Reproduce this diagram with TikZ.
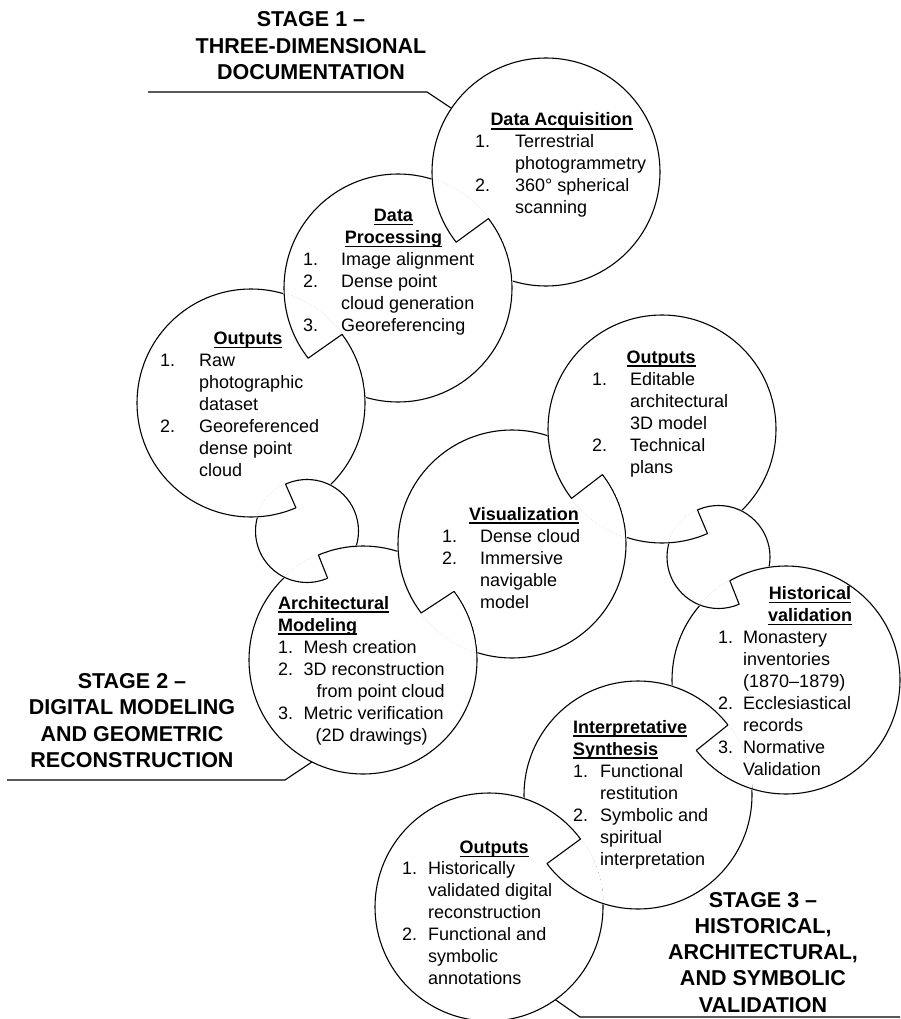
\documentclass[tikz,border=0pt]{standalone}
\usepackage{fontspec}
\setmainfont{Liberation Sans}
\usetikzlibrary{calc}

% underlined bold heading
\newcommand\uhd[1]{\setbox0\hbox{\bfseries #1}\rlap{\rule[-3.6pt]{\wd0}{1.2pt}}\box0}

% notch between two overlapping rings:
% #1 ring A, #2 radius, #3 angle of notch tip on A, #4 ring B, #5 radius, #6 angle on B,
% #7 point on the side of A, #8 point on the side of B
\newcommand\joint[8]{%
  \coordinate (jx) at ($(#1)+(#3:#2)$);
  \coordinate (jy) at ($(#4)+(#6:#5)$);
  \coordinate (jm) at ($(jx)!.5!(jy)$);
  \coordinate (ja) at ($(jx)!-6!(jy)$);
  \coordinate (jb) at ($(jy)!-6!(jx)$);
  \coordinate (jp) at ($(jm)!5!(#7)$);
  \coordinate (jq) at ($(jm)!5!(#8)$);
  \begin{scope}
    \clip (#1) circle[radius=#2pt+0.9pt];
    \clip (#4) circle[radius=#5pt+0.9pt];
    \fill[white] (#1) circle[radius=#2pt+1pt];
    \begin{scope}
      \clip (ja) -- (jb) -- (jp) -- cycle;
      \draw[seam] (#1) circle[radius=#2pt];
    \end{scope}
    \begin{scope}
      \clip (ja) -- (jb) -- (jq) -- cycle;
      \draw[seam] (#4) circle[radius=#5pt];
    \end{scope}
    \draw[seam, line cap=round] (jx) -- (jy);
  \end{scope}}

\begin{document}
\begin{tikzpicture}[x=1pt, y=-1pt,
  every node/.style={inner sep=0pt, font=\fontsize{18}{22}\selectfont},
  ring/.style={draw, fill=white, line width=1.1pt},
  seam/.style={line width=1.1pt},
  guide/.style={line width=1.1pt},
  stage/.style={font=\fontsize{21.5}{26.3}\selectfont\bfseries}]
  \useasboundingbox (0,0) rectangle (900,1019);

  % ring centres
  \coordinate (acq)   at (546,172);
  \coordinate (proc)  at (398,288);
  \coordinate (outA)  at (251,403);
  \coordinate (linkA) at (307,531);
  \coordinate (model) at (363,660);
  \coordinate (vis)   at (512,544);
  \coordinate (outB)  at (662,429);
  \coordinate (linkB) at (718.5,557);
  \coordinate (hist)  at (786,680);
  \coordinate (synth) at (638,795);
  \coordinate (outC)  at (489,907);

  \draw[ring] (acq) circle[radius=114pt];
  \draw[ring] (proc) circle[radius=114pt];
  \draw[ring] (outA) circle[radius=114pt];
  \draw[ring] (linkA) circle[radius=51.5pt];
  \draw[ring] (model) circle[radius=114pt];
  \draw[ring] (vis) circle[radius=114pt];
  \draw[ring] (outB) circle[radius=114pt];
  \draw[ring] (linkB) circle[radius=51.5pt];
  \draw[ring] (hist) circle[radius=114pt];
  \draw[ring] (synth) circle[radius=114pt];
  \draw[ring] (outC) circle[radius=114pt];

  % notches
  \joint{acq}{114}{142}{proc}{114}{-37.5}{432,179}{512,281}
  \joint{proc}{114}{142}{outA}{114}{-37}{284,294}{365,397}
  \joint{linkA}{51.5}{245.4}{outA}{114}{66.8}{330,485}{257,517}
  \joint{model}{114}{247}{linkA}{51.5}{66.4}{356,546}{284,577}
  \joint{vis}{114}{142.8}{model}{114}{-37}{398,552}{477,652}
  \joint{outB}{114}{142.5}{vis}{114}{-37.5}{548,436}{626,537}
  \joint{linkB}{51.5}{245.9}{outB}{114}{66.5}{741,511}{669,543}
  \joint{hist}{114}{240.5}{linkB}{51.5}{66.4}{769,567}{700,605}
  \joint{synth}{114}{-37.9}{hist}{114}{141.9}{672,686}{752,789}
  \joint{outC}{114}{-36.6}{synth}{114}{143}{524,799}{603,903}

  % stage leaders
  \coordinate (st1a) at (148,92);
  \coordinate (st1b) at (427,92);
  \coordinate (st1c) at ($(acq)+(214:114)$);
  \draw[guide] (st1a) -- (st1b) -- (st1c);
  \coordinate (st2a) at (7,780);
  \coordinate (st2b) at (285,780);
  \coordinate (st2c) at ($(model)+(116.6:114)$);
  \draw[guide] (st2a) -- (st2b) -- (st2c);
  \coordinate (st3a) at ($(outC)+(54.4:114)$);
  \coordinate (st3b) at (580,1017);
  \coordinate (st3c) at (900,1017);
  \draw[guide] (st3a) -- (st3b) -- (st3c);

  % stage titles
  \node[stage, anchor=base] (stage1) at (311,27)
    {\begin{tabular}[t]{@{}c@{}}STAGE 1 --\\THREE-DIMENSIONAL\\DOCUMENTATION\end{tabular}};
  \node[stage, anchor=base] (stage2) at (132,688.5)
    {\begin{tabular}[t]{@{}c@{}}STAGE 2 --\\DIGITAL MODELING\\AND GEOMETRIC\\RECONSTRUCTION\end{tabular}};
  \node[stage, anchor=base] (stage3) at (763,907)
    {\begin{tabular}[t]{@{}c@{}}STAGE 3 --\\HISTORICAL,\\ARCHITECTURAL,\\AND SYMBOLIC\\VALIDATION\end{tabular}};

  % stage 1
  \node[anchor=base] (acqhead) at (561.5,126) {\uhd{Data Acquisition}};
  \node[anchor=base west] (acqlist) at (475,148)
    {\begin{tabular}[t]{@{}p{40pt}@{}l@{}}1. & Terrestrial\\ & photogrammetry\\ 2. & 360° spherical\\ & scanning\end{tabular}};

  \node[anchor=base] (prochead) at (393.5,221.5)
    {\begin{tabular}[t]{@{}c@{}}\uhd{Data}\\\uhd{Processing}\end{tabular}};
  \node[anchor=base west] (proclist) at (303,265.5)
    {\begin{tabular}[t]{@{}p{38pt}@{}l@{}}1. & Image alignment\\ 2. & Dense point\\ & cloud generation\\ 3. & Georeferencing\end{tabular}};

  \node[anchor=base] (outAhead) at (248,344.5) {\uhd{Outputs}};
  \node[anchor=base west] (outAlist) at (160,366.5)
    {\begin{tabular}[t]{@{}p{39pt}@{}l@{}}1. & Raw\\ & photographic\\ & dataset\\ 2. & Georeferenced\\ & dense point\\ & cloud\end{tabular}};

  % stage 2
  \node[anchor=base west] (modelhead) at (278,609)
    {\begin{tabular}[t]{@{}l@{}}\uhd{Architectural}\\\uhd{Modeling}\end{tabular}};
  \node[anchor=base west] (modellist) at (278,653)
    {\begin{tabular}[t]{@{}p{25.5pt}@{}l@{}}1. & Mesh creation\\ 2. & 3D reconstruction\\ & \hspace*{13pt}from point cloud\\ 3. & Metric verification\\ & \hspace*{12pt}(2D drawings)\end{tabular}};

  \node[anchor=base] (vishead) at (524,520) {\uhd{Visualization}};
  \node[anchor=base west] (vislist) at (442,542)
    {\begin{tabular}[t]{@{}p{38pt}@{}l@{}}1. & Dense cloud\\ 2. & Immersive\\ & navigable\\ & model\end{tabular}};

  \node[anchor=base] (outBhead) at (661,363) {\uhd{Outputs}};
  \node[anchor=base west] (outBlist) at (592,385)
    {\begin{tabular}[t]{@{}p{38pt}@{}l@{}}1. & Editable\\ & architectural\\ & 3D model\\ 2. & Technical\\ & plans\end{tabular}};

  % stage 3
  \node[anchor=base] (histhead) at (810,599.5)
    {\begin{tabular}[t]{@{}c@{}}\uhd{Historical}\\\uhd{validation}\end{tabular}};
  \node[anchor=base west] (histlist) at (718,643.5)
    {\begin{tabular}[t]{@{}p{25pt}@{}l@{}}1. & Monastery\\ & inventories\\ & (1870--1879)\\ 2. & Ecclesiastical\\ & records\\ 3. & Normative\\ & Validation\end{tabular}};

  \node[anchor=base west] (synthhead) at (573,733)
    {\begin{tabular}[t]{@{}l@{}}\uhd{Interpretative}\\\uhd{Synthesis}\end{tabular}};
  \node[anchor=base west] (synthlist) at (573,777)
    {\begin{tabular}[t]{@{}p{27pt}@{}l@{}}1. & Functional\\ & restitution\\ 2. & Symbolic and\\ & spiritual\\ & interpretation\end{tabular}};

  \node[anchor=base] (outChead) at (494,853.5) {\uhd{Outputs}};
  \node[anchor=base west] (outClist) at (402,874.5)
    {\begin{tabular}[t]{@{}p{26pt}@{}l@{}}1. & Historically\\ & validated digital\\ & reconstruction\\ 2. & Functional and\\ & symbolic\\ & annotations\end{tabular}};
\end{tikzpicture}
\end{document}
